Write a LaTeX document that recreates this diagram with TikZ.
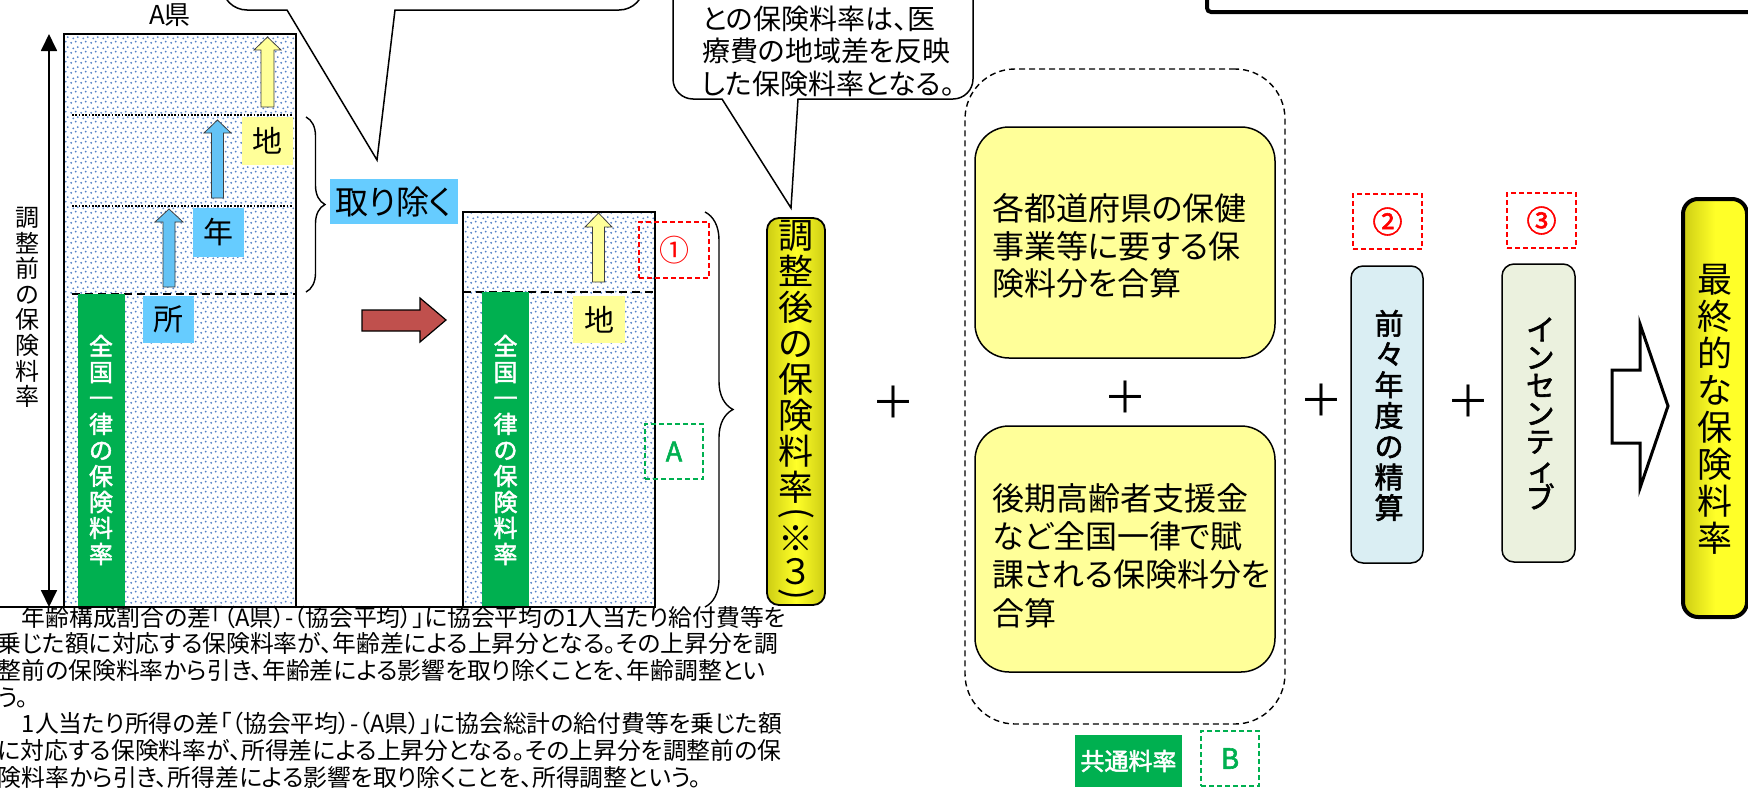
\documentclass[tikz,border=0pt]{standalone}
\usepackage{fontspec}
\usepackage{graphicx}
\setmainfont{Noto Sans CJK JP}[RawFeature=+palt,AutoFakeBold=2]
\usetikzlibrary{patterns.meta,decorations.pathreplacing,arrows.meta}

\definecolor{skyb}{RGB}{102,204,255}
\definecolor{arrb}{RGB}{100,195,245}
\definecolor{ylw}{RGB}{255,255,153}
\definecolor{grn}{RGB}{0,176,80}
\definecolor{redarr}{RGB}{192,80,77}
\definecolor{lblue}{RGB}{218,238,243}
\definecolor{lgreen}{RGB}{235,241,222}
\definecolor{dotblue}{RGB}{85,130,200}
\definecolor{ydark}{RGB}{205,205,20}
\definecolor{ybright}{RGB}{255,255,40}

\tikzdeclarepattern{
  name=stipple,
  type=uncolored,
  bottom left={(0pt,0pt)},
  top right={(10pt,10pt)},
  tile size={(10pt,10pt)},
  code={
    \fill (1.3pt,1.3pt) circle (1.1pt);
    \fill (6.2pt,2.6pt) circle (1.1pt);
    \fill (3.6pt,6.1pt) circle (1.1pt);
    \fill (8.5pt,7.6pt) circle (1.1pt);
  }
}

\newcommand\blockup[7]{%
  \draw[#1] (#2,#3) -- ({#2+#4},{#3+#5}) -- ({#2+#6},{#3+#5}) -- ({#2+#6},#7)
    -- ({#2-#6},#7) -- ({#2-#6},{#3+#5}) -- ({#2-#4},{#3+#5}) -- cycle;}

\begin{document}
\begin{tikzpicture}[x=1pt,y=-1pt,
  every node/.style={inner sep=0pt, outer sep=0pt},
  column/.style={draw, line width=1.6pt, preaction={fill=white}, pattern=stipple, pattern color=dotblue},
  greenbar/.style={fill=grn},
  vwhite/.style={text=white, font=\fontsize{24}{26}\selectfont\bfseries, align=center},
  tagbox/.style={font=\fontsize{30}{30}\selectfont},
  bluearrow/.style={fill=arrb, draw=black!75, line width=0.8pt},
  ylwarrow/.style={fill=ylw, draw=black!75, line width=0.8pt},
  reddash/.style={draw=red, dash pattern=on 5pt off 3pt, line width=1.5pt},
  grndash/.style={draw=grn, dash pattern=on 5pt off 3pt, line width=1.5pt},
  ybox/.style={draw, line width=1.5pt, fill=ylw, rounded corners=34pt},
  plussign/.style={font=\fontsize{44}{44}\selectfont},
  callout/.style={draw, line width=1.5pt},
  bracestyle/.style={decorate, line width=1.4pt},
  sidebox/.style={draw, line width=1.5pt, rounded corners=12pt},
  boxtext/.style={font=\fontsize{32}{37.5}\selectfont, align=left, anchor=west}
]
\path[use as bounding box] (0,0) rectangle (1748,793);
\clip (0,0) rectangle (1748,793);
\fill[white] (0,0) rectangle (1748,793);

% callouts (cut by the frame)
\draw[callout] (222,-40) -- (222,-15) arc[start angle=180,end angle=90,radius=25]
  -- (287,10) -- (377,160) -- (395,10) -- (619,10)
  arc[start angle=90,end angle=0,radius=25] -- (644,-40);
\draw[callout] (673,-40) -- (673,79) arc[start angle=180,end angle=90,radius=20]
  -- (722,99) -- (791,208) -- (798,99) -- (953,99)
  arc[start angle=90,end angle=0,radius=20] -- (973,-40);
\node[font=\fontsize{28}{32.5}\selectfont, align=left, anchor=west] (c2text) at (702,51)
  {との保険料率は、医\\療費の地域差を反映\\した保険料率となる。};
\draw[line width=4pt, rounded corners=4pt] (1207,-20) -- (1207,12) -- (1770,12);

% left column
\node[font=\fontsize{26}{28}\selectfont] (apref) at (170,15) {A県};
\coordinate (axtop) at (49,34);
\coordinate (axbot) at (49,607);
\draw[line width=1.8pt, {Triangle[width=16pt,length=17pt]}-{Triangle[width=16pt,length=17pt]}] (axbot) -- (axtop);
\node[font=\fontsize{24}{25.6}\selectfont, align=center] (ylbl) at (27,307.5) {調\\整\\前\\の\\保\\険\\料\\率};

\node[column, minimum width=232, minimum height=573] (colA) at (180,320.5) {};
\draw[line width=1.8pt, dash pattern=on 1.8pt off 1.5pt] (72,115) -- (292,115);
\draw[line width=1.8pt, dash pattern=on 1.8pt off 1.5pt] (72,206) -- (292,206);
\draw[line width=1.8pt, dash pattern=on 8pt off 5pt] (72,294) -- (296,294);
\node[greenbar, minimum width=47, minimum height=313] (gbar1) at (101,450.5) {};
\node[vwhite] (g1txt) at (101,450) {全\\国\\一\\律\\の\\保\\険\\料\\率};
\node[tagbox, fill=skyb, minimum width=51, minimum height=47] (sho) at (168.5,319.5) {所};
\node[tagbox, fill=skyb, minimum width=51, minimum height=49] (nen) at (218.5,232.5) {年};
\node[tagbox, fill=ylw, minimum width=51, minimum height=48] (chi1) at (267.5,141) {地};
\blockup{bluearrow}{169}{209}{14}{13}{6}{287}
\blockup{bluearrow}{217.5}{120}{13.5}{13}{6}{198}
\blockup{ylwarrow}{267.5}{37}{13.5}{13}{6.5}{107}

\draw[bracestyle, decoration={brace,amplitude=19pt}] (306,117) -- (306,292);
\node[fill=skyb, minimum width=128, minimum height=45, font=\fontsize{33}{33}\selectfont] (torinozoku) at (394,201.5) {取り除く};

\draw[fill=redarr, draw=black, line width=1.2pt] (362,310) -- (420,310) -- (420,298) -- (446,320) -- (420,342) -- (420,331) -- (362,331) -- cycle;

% second column
\node[column, minimum width=192, minimum height=395] (colB) at (559,409.5) {};
\draw[line width=1.8pt, dash pattern=on 8pt off 5pt] (463,292) -- (655,292);
\node[greenbar, minimum width=47, minimum height=315] (gbar2) at (505.5,449.5) {};
\node[vwhite] (g2txt) at (505.5,450) {全\\国\\一\\律\\の\\保\\険\\料\\率};
\node[tagbox, fill=ylw, minimum width=52, minimum height=47] (chi2) at (599,319.5) {地};
\blockup{ylwarrow}{598.5}{213}{13.5}{14}{6}{282}
\node[reddash, minimum width=70, minimum height=56, text=red, font=\fontsize{30}{30}\selectfont] (n1box) at (674,250) {①};
\node[grndash, minimum width=58, minimum height=55, text=grn, font=\fontsize{27}{27}\selectfont\bfseries] (abox) at (674,451.5) {A};
\draw[line width=1.8pt] (0,607) -- (655,607);
\draw[bracestyle, decoration={brace,amplitude=28pt}] (705,212) -- (705,607);

\node[draw, line width=1.8pt, rounded corners=12pt, minimum width=58, minimum height=387,
  left color=ydark, right color=ydark, middle color=ybright] (adjbox) at (796,411.5) {};
\node[font=\fontsize{35}{36}\selectfont, align=center] (adjtxt) at (796,413)
  {調\\整\\後\\の\\保\\険\\料\\率\\[-12pt]\rotatebox[origin=c]{-90}{(}\\[-9pt]※\\[-3pt]３\\[-15pt]\rotatebox[origin=c]{-90}{)}};

\node[plussign] (plus1) at (893,402) {＋};

% common rate group
\node[draw, line width=1.4pt, dash pattern=on 6pt off 4pt, rounded corners=50pt, minimum width=320, minimum height=655] (common) at (1125,396.5) {};
\node[ybox, minimum width=300, minimum height=231] (hoken) at (1125,242.5) {};
\node[boxtext] (hokentxt) at (992,246) {各都道府県の保健\\事業等に要する保\\険料分を合算};
\node[plussign] (plus2) at (1125,397) {＋};
\node[ybox, minimum width=300, minimum height=246] (koki) at (1125,549) {};
\node[boxtext, font=\fontsize{32}{38.3}\selectfont] (kokitxt) at (992,555.5) {後期高齢者支援金\\など全国一律で賦\\課される保険料分を\\合算};
\node[fill=grn, text=white, font=\fontsize{24}{24}\selectfont\bfseries, minimum width=107, minimum height=52] (kyotsu) at (1128.5,761) {共通料率};
\node[grndash, minimum width=58, minimum height=55, text=grn, font=\fontsize{28}{28}\selectfont\bfseries] (bbox) at (1230,758.5) {B};

% right part
\node[plussign] (plus3) at (1321,400) {＋};
\node[reddash, minimum width=69, minimum height=55, text=red, font=\fontsize{30}{30}\selectfont\bfseries] (n2box) at (1387.5,221.5) {②};
\node[sidebox, fill=lblue, minimum width=72, minimum height=297] (zenzen) at (1387,414.5) {};
\node[font=\fontsize{29}{30.7}\selectfont\bfseries, align=center] (zenzentxt) at (1389,415.5) {前\\々\\年\\度\\の\\精\\算};
\node[plussign] (plus4) at (1468,401) {＋};
\node[reddash, minimum width=69, minimum height=55, text=red, font=\fontsize{30}{30}\selectfont\bfseries] (n3box) at (1541.5,220.5) {③};
\node[sidebox, fill=lgreen, minimum width=73, minimum height=298] (incent) at (1538.5,413) {};
\node[font=\fontsize{29}{28}\selectfont\bfseries, align=center] (incenttxt) at (1540,413.5) {イ\\ン\\セ\\ン\\テ\\ィ\\ブ};

\draw[fill=white, draw=black, line width=3pt, line join=miter] (1612,370) -- (1640,370) -- (1640,324) -- (1668,406) -- (1640,488) -- (1640,443) -- (1612,443) -- cycle;

\node[draw, line width=4pt, rounded corners=15pt, minimum width=64, minimum height=418,
  left color=ydark, right color=ybright, middle color=ybright] (finalbox) at (1715,408) {};
\node[font=\fontsize{35}{37}\selectfont, align=center] (finaltxt) at (1715,409.5) {最\\終\\的\\な\\保\\険\\料\\率};

% footnote text
\node[font=\fontsize{23.8}{26.67}\selectfont, align=left, anchor=west] (note) at (-2,697)
{　年齢構成割合の差「（A県）-（協会平均）」に協会平均の1人当たり給付費等を\\
乗じた額に対応する保険料率が、年齢差による上昇分となる。その上昇分を調\\
整前の保険料率から引き、年齢差による影響を取り除くことを、年齢調整とい\\
う。\\
　1人当たり所得の差「（協会平均）-（A県）」に協会総計の給付費等を乗じた額\\
に対応する保険料率が、所得差による上昇分となる。その上昇分を調整前の保\\
険料率から引き、所得差による影響を取り除くことを、所得調整という。};
\end{tikzpicture}
\end{document}
